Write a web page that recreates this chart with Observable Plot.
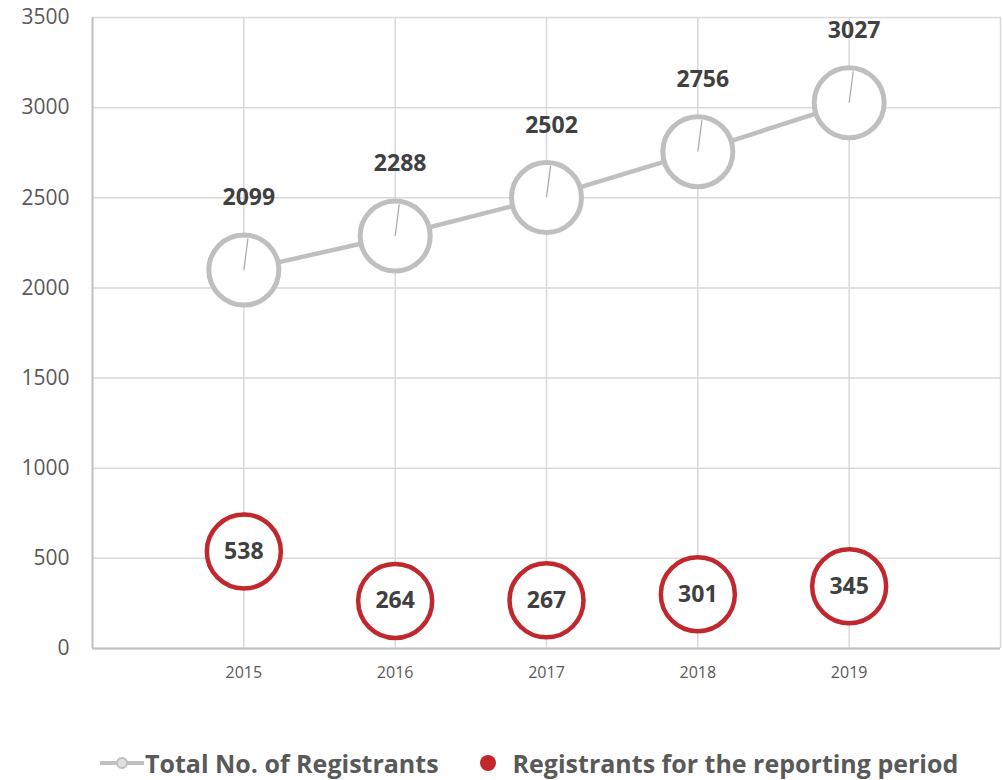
<!DOCTYPE html>
<html>
<head>
<meta charset="utf-8">
<script src="https://cdn.jsdelivr.net/npm/d3@7"></script>
<script src="https://cdn.jsdelivr.net/npm/@observablehq/plot@0.6"></script>
<style>
  body { margin: 0; background: #fff; font-family: "Open Sans", sans-serif; }
  #legend { display: flex; align-items: center; height: 60px; padding-left: 100px; margin-top: 33px;
            font-size: 25px; font-weight: bold; color: #595959; }
  #legend .item { display: flex; align-items: center; }
</style>
</head>
<body>
<div id="chart"></div>
<div id="legend">
  <div class="item"><svg width="44" height="20"><line x1="0" y1="10" x2="44" y2="10" stroke="#bfbfbf" stroke-width="4"/><circle cx="22" cy="10" r="5" fill="#e0e0e0" stroke="#bfbfbf" stroke-width="2"/></svg><span style="margin-left:1px">Total No. of Registrants</span></div>
  <div class="item" style="margin-left:40px"><svg width="20" height="20"><circle cx="9" cy="10" r="8" fill="#c0282e"/></svg><span style="margin-left:14px">Registrants for the reporting period</span></div>
</div>
<script>
const years = [2015, 2016, 2017, 2018, 2019];
const totalRegistrants = [2099, 2288, 2502, 2756, 3027];
const periodRegistrants = [538, 264, 267, 301, 345];
const yTicks = [0, 500, 1000, 1500, 2000, 2500, 3000, 3500];

const total = years.map((y, i) => ({year: y, value: totalRegistrants[i]}));
const period = years.map((y, i) => ({year: y, value: periodRegistrants[i]}));

const gray = "#bfbfbf";
const red = "#c0282e";

const chart = Plot.plot({
  width: 1003,
  height: 700,
  marginLeft: 92,
  marginRight: 3,
  marginTop: 17,
  marginBottom: 52,
  style: {fontFamily: "Open Sans, sans-serif", background: "#fff"},
  x: {domain: [2014, 2020], label: null},
  y: {domain: [0, 3500], label: null},
  marks: [
    Plot.gridY(yTicks, {stroke: "#d9d9d9", strokeOpacity: 1, strokeWidth: 1.5}),
    Plot.gridX([2015, 2016, 2017, 2018, 2019, 2020], {stroke: "#d9d9d9", strokeOpacity: 1, strokeWidth: 1.5}),
    Plot.ruleX([2014], {stroke: gray, strokeWidth: 2}),
    Plot.ruleY([0], {stroke: gray, strokeWidth: 2}),
    Plot.axisX({ticks: years, tickFormat: d => String(d), tickSize: 0, tickPadding: 18, fontSize: 16, fill: "#595959"}),
    Plot.axisY({ticks: yTicks, tickFormat: d => String(d), tickSize: 0, tickPadding: 23, fontSize: 21, fill: "#595959"}),
    Plot.line(total, {x: "year", y: "value", stroke: gray, strokeWidth: 4.5}),
    Plot.dot(total, {x: "year", y: "value", r: 35, fill: "white", stroke: gray, strokeWidth: 5}),
    Plot.link(total, {x1: "year", y1: "value", x2: d => d.year + 0.027, y2: d => d.value + 175, stroke: "#a6a6a6", strokeWidth: 1.2}),
    Plot.text(total, {x: "year", y: "value", text: d => String(d.value), dy: -72, dx: 5, fontSize: 23, fontWeight: "bold", fill: "#404040"}),
    Plot.dot(period, {x: "year", y: "value", r: 37, fill: "white", stroke: red, strokeWidth: 4.5}),
    Plot.text(period, {x: "year", y: "value", text: d => String(d.value), fontSize: 23, fontWeight: "bold", fill: "#404040"})
  ]
});
document.getElementById("chart").append(chart);
</script>
</body>
</html>
